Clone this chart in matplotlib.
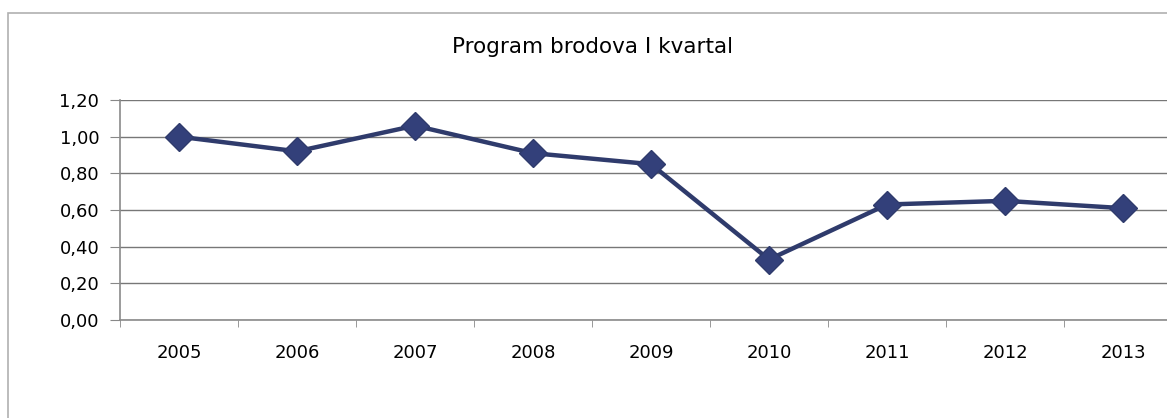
import matplotlib.pyplot as plt
from matplotlib.patches import Rectangle
from matplotlib.ticker import FixedLocator, FuncFormatter

plt.rcParams['font.family'] = ['DejaVu Sans']

years = ['2005', '2006', '2007', '2008', '2009', '2010', '2011', '2012', '2013']
values = [1.00, 0.92, 1.06, 0.91, 0.85, 0.33, 0.63, 0.65, 0.61]
y_ticks = [0.0, 0.2, 0.4, 0.6, 0.8, 1.0, 1.2]

W, H = 1167, 418
fig = plt.figure(figsize=(W / 100, H / 100), dpi=100)

# chart border (scanned Excel frame)
fig.patches.append(Rectangle((8 / W, -0.05), 1.2, 1 - 13 / H + 0.05,
                             transform=fig.transFigure, fill=False,
                             edgecolor='#b0b0b0', linewidth=1.2))

# plot area: left 120px, top 100px, bottom 320px, category width ~118px
left, top, bottom = 120, 100, 320
right = left + 9 * 118
ax = fig.add_axes([left / W, 1 - bottom / H, (right - left) / W, (bottom - top) / H])

x = list(range(len(years)))
ax.plot(x, values, color='#2f3b6c', linewidth=3.2, marker='D',
        markersize=14, markerfacecolor='#33407a', markeredgecolor='#2f3b6c',
        solid_joinstyle='round', zorder=3, clip_on=False)

ax.set_xlim(-0.5, len(years) - 0.5)
ax.set_ylim(0, 1.2)
ax.set_yticks(y_ticks)
ax.yaxis.set_major_formatter(FuncFormatter(lambda v, p: f'{v:.2f}'.replace('.', ',')))
ax.grid(axis='y', color='#777777', linewidth=1.0)
ax.set_axisbelow(True)

# category labels between boundary ticks, like Excel
ax.set_xticks(x)
ax.set_xticklabels(years)
ax.tick_params(axis='x', which='major', length=0, pad=17, labelsize=13)
ax.xaxis.set_minor_locator(FixedLocator([i - 0.5 for i in range(len(years) + 1)]))
ax.tick_params(axis='x', which='minor', length=5, color='#888888', direction='out')
ax.tick_params(axis='y', length=7, color='#888888', labelsize=13, pad=8)

for s in ['top', 'right']:
    ax.spines[s].set_visible(False)
for s in ['left', 'bottom']:
    ax.spines[s].set_color('#8a8a8a')
    ax.spines[s].set_linewidth(1.2)

fig.text(593 / W, 1 - 47 / H, 'Program brodova I kvartal', ha='center', va='center',
         fontsize=15.5)

fig.savefig('out.png', dpi=100)
